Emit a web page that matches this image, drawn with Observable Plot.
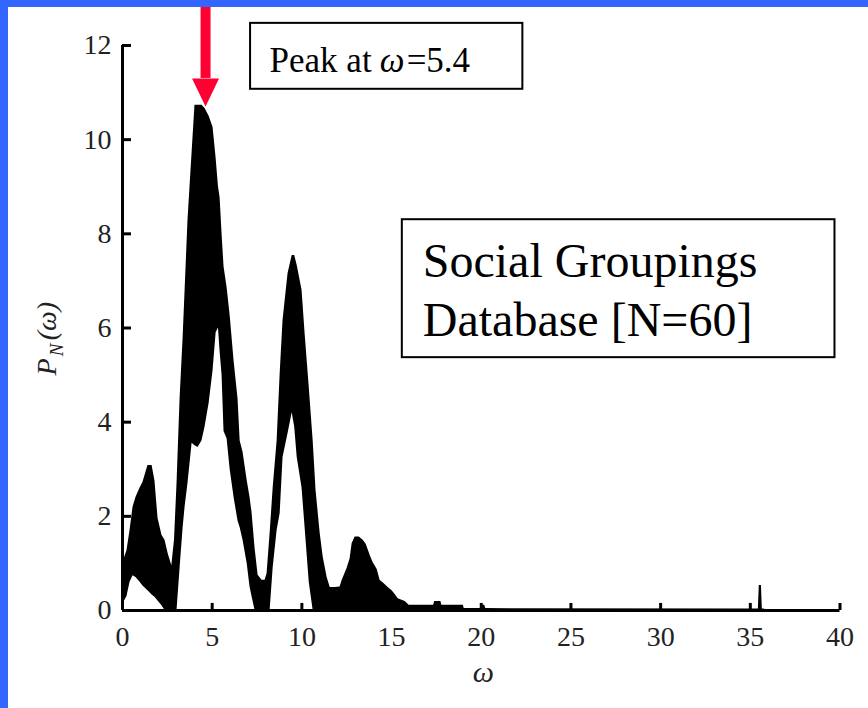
<!DOCTYPE html>
<html>
<head>
<meta charset="utf-8">
<script src="https://cdn.jsdelivr.net/npm/d3@7"></script>
<script src="https://cdn.jsdelivr.net/npm/@observablehq/plot@0.6"></script>
<style>
html, body { margin: 0; padding: 0; background: #fff; }
#frame { position: absolute; left: 0; top: 0; width: 860px; height: 701px;
  border-left: 8px solid #3366ff; border-top: 7px solid #3366ff; background: #fff; overflow: hidden; }
svg { display: block; }
</style>
</head>
<body>
<div id="frame"></div>
<script>
// frequency omega
const omega = [0, 0.25, 0.42, 0.59, 0.75, 0.98, 1.14, 1.42, 1.65, 1.81, 1.98, 2.2, 2.37, 2.55, 2.75, 2.9,
  3.04, 3.21, 3.38, 3.49, 3.65, 3.88, 4.04, 4.21, 4.43, 4.6, 4.83, 5.05, 5.22, 5.35, 5.44, 5.55, 5.66,
  5.83, 6.0, 6.22, 6.44, 6.56, 6.72, 6.95, 7.11, 7.22, 7.39, 7.56, 7.78, 7.95, 8.06, 8.23, 8.4, 8.62,
  8.79, 8.95, 9.23, 9.46, 9.6, 9.74, 10.01, 10.18, 10.41, 10.63, 10.79, 11.02, 11.19, 11.41, 11.58,
  11.86, 12.13, 12.25, 12.52, 12.69, 12.8, 12.97, 13.2, 13.42, 13.59, 13.81, 13.97, 14.2, 14.36, 14.59,
  14.81, 15.03, 15.2, 15.37, 15.76, 15.98, 17.35, 17.4, 17.75, 17.8, 19.0, 19.05, 19.95, 20.0, 20.2,
  20.25, 35.45, 35.5, 35.62, 35.67, 35.8];
// upper envelope of the periodogram band P_N(omega)
const powerHigh = [1.0, 1.27, 1.7, 2.2, 2.4, 2.6, 2.72, 3.08, 3.08, 2.75, 1.96, 1.6, 1.49, 1.2, 0.95, 1.5,
  2.7, 4.5, 5.8, 6.8, 8.28, 9.73, 10.73, 10.73, 10.73, 10.66, 10.5, 10.26, 9.6, 9.0, 8.77, 8.0, 7.3,
  6.86, 6.27, 5.3, 4.5, 3.6, 3.36, 2.76, 2.4, 2.08, 1.32, 0.75, 0.64, 0.64, 0.78, 1.64, 2.6, 3.6,
  5.03, 6.16, 7.16, 7.54, 7.54, 7.33, 6.8, 5.88, 4.74, 3.6, 2.55, 1.64, 1.13, 0.7, 0.49,
  0.49, 0.5, 0.64, 0.89, 1.1, 1.42, 1.56, 1.56, 1.49, 1.40, 1.17, 1.02, 0.87, 0.64, 0.57,
  0.49, 0.42, 0.34, 0.25, 0.19, 0.11, 0.11, 0.19, 0.19, 0.11, 0.11, 0.04, 0.04, 0.11, 0.11,
  0.04, 0.03, 0.53, 0.53, 0.03, 0.03];
// lower envelope of the periodogram band
const powerLow = [0.12, 0.3, 0.6, 0.74, 0.7, 0.6, 0.52, 0.42, 0.33, 0.28, 0.2, 0.1, 0, 0, 0, 0,
  0, 0.9, 1.76, 2.2, 2.7, 3.55, 3.5, 3.46, 3.6, 3.89, 4.4, 5.1, 5.9, 6.0, 5.5, 5.0, 3.8,
  3.65, 3.0, 2.4, 1.9, 1.76, 1.49, 1.0, 0.5, 0.3, 0, 0, 0, 0, 0, 0, 0.91, 1.7,
  2.06, 3.25, 3.76, 4.2, 3.9, 3.25, 2.6, 1.76, 0.6, 0, 0, 0, 0, 0, 0,
  0, 0, 0, 0, 0, 0, 0, 0, 0, 0, 0, 0, 0, 0, 0,
  0, 0, 0, 0, 0, 0, 0, 0, 0, 0, 0, 0, 0, 0, 0,
  0, 0, 0, 0, 0, 0];

const xTicks = [0, 5, 10, 15, 20, 25, 30, 35, 40];
const yTicks = [0, 2, 4, 6, 8, 10, 12];

// annotations
const peakArrow = [{x: 4.63, top: 12.81, base: 11.3}];
const boxes = [
  {x1: 7.14, x2: 22.32, y1: 11.07, y2: 12.47},
  {x1: 15.6, x2: 39.72, y1: 5.37, y2: 8.3}
];
const peakLabel = [
  {x: 8.2, y: 11.43, text: "Peak at", style: "normal"},
  {x: 14.34, y: 11.43, text: "ω", style: "italic"},
  {x: 15.84, y: 11.43, text: "=5.4", style: "normal"}
];
const dbLabel = [{x: 16.74, y: 5.84, text: "Social Groupings\nDatabase [N=60]"}];
const yLabel = [
  {x: -3.73, y: 4.99, text: "P", size: 28},
  {x: -3.34, y: 5.40, text: "N", size: 19},
  {x: -3.68, y: 5.74, text: "(ω)", size: 28}
];
const xLabel = [{x: 20.12, y: -1.32, text: "ω"}];

const data = omega.map((w, i) => ({w, hi: powerHigh[i], lo: powerLow[i]}));

const arrowHead = {
  draw(ctx) {
    ctx.moveTo(-13.5, 0);
    ctx.lineTo(13.5, 0);
    ctx.lineTo(0, 28);
    ctx.closePath();
  }
};

const serif = "Liberation Serif";
const chart = Plot.plot({
  width: 860,
  height: 701,
  marginLeft: 114,
  marginRight: 28.5,
  marginTop: 38,
  marginBottom: 98,
  x: {domain: [0, 40], ticks: xTicks, label: null},
  y: {domain: [0, 12], ticks: yTicks, label: null},
  style: {fontFamily: serif, fontSize: "28px", background: "white", color: "#222"},
  marks: [
    Plot.areaY(data, {x: "w", y1: "lo", y2: "hi", fill: "black", curve: "linear"}),
    Plot.ruleX(xTicks, {y1: 0, y2: 0.15, stroke: "black", strokeWidth: 3}),
    Plot.ruleY(yTicks, {x1: 0, x2: 0.5, stroke: "black", strokeWidth: 3}),
    Plot.ruleX([0], {y1: 0, y2: 12, stroke: "black", strokeWidth: 3}),
    Plot.ruleY([0], {x1: 0, x2: 40, stroke: "black", strokeWidth: 3}),
    Plot.axisX({ticks: xTicks, tickSize: 0, tickPadding: 16, fontSize: 28, fontFamily: serif, fill: "#222"}),
    Plot.axisY({ticks: yTicks, tickSize: 0, tickPadding: 11, fontSize: 28, fontFamily: serif, fill: "#222"}),
    Plot.text(yLabel, {x: "x", y: "y", text: "text", fontSize: (d) => d.size, rotate: -90, fontFamily: serif,
      textAnchor: "start", lineAnchor: "bottom", fontStyle: "italic", fill: "#222"}),
    Plot.text(xLabel, {x: "x", y: "y", text: "text", fontSize: 30, fontStyle: "italic", fontFamily: serif, fill: "#222"}),
    Plot.rect(boxes, {x1: "x1", x2: "x2", y1: "y1", y2: "y2", fill: "white", stroke: "black", strokeWidth: 2}),
    Plot.text(peakLabel.filter(d => d.style === "normal"), {x: "x", y: "y", text: "text", fontSize: 35,
      fontFamily: serif, textAnchor: "start", lineAnchor: "bottom", fill: "black"}),
    Plot.text(peakLabel.filter(d => d.style === "italic"), {x: "x", y: "y", text: "text", fontSize: 35,
      fontFamily: serif, fontStyle: "italic", textAnchor: "start", lineAnchor: "bottom", fill: "black"}),
    Plot.text(dbLabel, {x: "x", y: "y", text: "text", fontSize: 48, lineHeight: 1.21, fontFamily: serif,
      textAnchor: "start", lineAnchor: "bottom", fill: "black"}),
    Plot.ruleX(peakArrow, {x: "x", y1: "top", y2: "base", stroke: "#ff0033", strokeWidth: 10}),
    Plot.dot(peakArrow, {x: "x", y: "base", symbol: arrowHead, fill: "#ff0033", stroke: null, r: 10})
  ]
});
document.getElementById("frame").appendChild(chart);
</script>
</body>
</html>
